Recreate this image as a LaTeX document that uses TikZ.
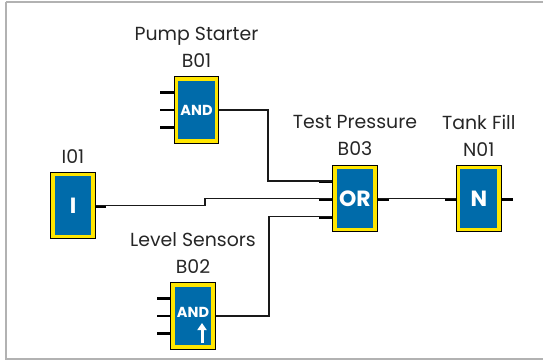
\documentclass[tikz,border=0pt]{standalone}
\usepackage{fontspec}
\setmainfont{Poppins}
\usetikzlibrary{arrows.meta,%
                positioning}

\definecolor{BlockBlue}{RGB}{0,107,170}
\definecolor{BlockYellow}{RGB}{255,230,0}
\definecolor{FrameGray}{RGB}{178,178,178}

\begin{document}
\begin{tikzpicture}[x=1pt,y=-1pt]
		\tikzstyle{Block}=[rectangle,minimum width=40.2pt,minimum height=62.2pt,inner sep=0pt,outer sep=2.65pt,
			fill=BlockBlue,draw=BlockYellow,line width=3.3pt,preaction={draw=black,line width=5.3pt},
			text=white,font=\fontsize{22}{22}\selectfont\bfseries]
		\tikzstyle{GateText}=[text=white,inner sep=0pt,font=\fontsize{14.5}{16}\selectfont\bfseries]
		\tikzstyle{Caption}=[align=center,inner sep=0pt,text=black!85,font=\fontsize{18.9}{27}\selectfont]
		\tikzstyle{Wire}=[draw=black!90,line width=1.3pt]
		\tikzstyle{Stub}=[draw=black,line width=2.4pt]
		\useasboundingbox (0,0) rectangle (543,360);
		\draw[FrameGray,line width=2pt] (5.5,2) -- (5.5,359) -- (543,359);
		\draw[FrameGray,line width=2pt] (5.5,2) -- (543,2);
		% blocks
		\node[Block] (B01) at (196.5,110) {};
		\node[GateText] (B01gate) at (B01.center) {AND};
		\node[Block] (B02) at (193,316) {};
		\node[GateText] (B02gate) at ([yshift=4pt]B02.center) {AND};
		\node[Block] (B03) at (355,198.5) {OR};
		\node[Block] (N01) at (478.8,198.5) {N};
		\node[Block] (I01) at (73,205.5) {I};
		% captions
		\node[Caption,above=8.5pt of B01] (B01cap) {Pump Starter\\B01};
		\node[Caption,above=8.5pt of B02] (B02cap) {Level Sensors\\B02};
		\node[Caption,above=8.5pt of B03] (B03cap) {Test Pressure\\B03};
		\node[Caption,above=8.5pt of N01] (N01cap) {Tank Fill\\N01};
		\node[Caption,above=8.5pt of I01] (I01cap) {I01};
		% up arrow of the lower AND
		\coordinate (B02up) at ([xshift=9pt,yshift=-27pt]B02.center);
		\coordinate (B02tip) at ([xshift=9pt,yshift=-7pt]B02.center);
		\draw[draw=white,line width=3pt,-{Triangle[length=7pt,width=9pt]}] (B02up) -- (B02tip);
		% inputs
		\foreach \name in {B01,B02}{
			\foreach \dy in {-17.5,0,17.5}{
				\coordinate (\name in) at ([yshift=\dy pt]\name.west);
				\draw[Stub] (\name in) -- ++(-13.5,0);
			}
		}
		\coordinate (B03a) at ([yshift=17.5pt]B03.west);
		\coordinate (B03b) at ([yshift=-0.2pt]B03.west);
		\coordinate (B03c) at ([yshift=-18.2pt]B03.west);
		\draw[Stub] (B03a) ++(0,0.8) -- ++(-13,0);
		\draw[Stub] (B03b) ++(0,0.8) -- ++(-13,0);
		\draw[Stub] (B03c) ++(0,0.8) -- ++(-13,0);
		\draw[Stub] (I01.east) ++(0,1) -- ++(10,0);
		\draw[Stub] (B03.east) ++(0,1) -- ++(11,0);
		\draw[Stub] (N01.west) ++(0,1) -- ++(-11,0);
		\draw[Stub] (N01.east) ++(0,1) -- ++(11,0);
		% wires
		\coordinate (J1) at (268,0 |- B03a);
		\coordinate (J2) at (205,0 |- B03b);
		\coordinate (J3) at (269,0 |- B03c);
		\draw[Wire] (B01.east) -| (J1) -- (B03a);
		\draw[Wire] (I01.east) -| (J2) -- (B03b);
		\draw[Wire] (B02.east) -| (J3) -- (B03c);
		\draw[Wire] (B03.east) -- (N01.west);
	\end{tikzpicture}
\end{document}
